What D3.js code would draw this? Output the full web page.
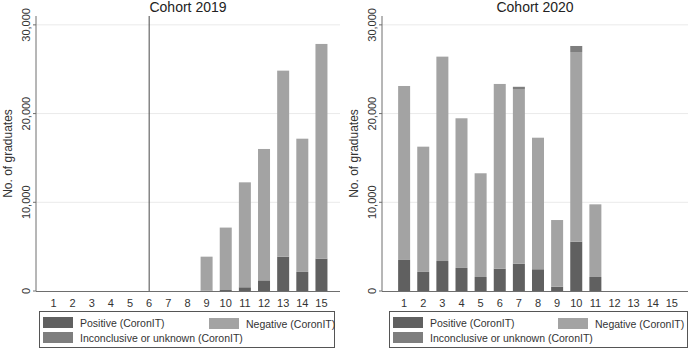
<!DOCTYPE html>
<html>
<head>
<meta charset="utf-8">
<script src="https://cdn.jsdelivr.net/npm/d3@7"></script>
<style>
  body { margin: 0; background: #fff; }
  svg { display: block; font-family: "Liberation Sans", Arial, sans-serif; }
</style>
</head>
<body>
<div id="chart"></div>
<script>
const W = 691, H = 349;

const categories = d3.range(1, 16);
const yTicks = [0, 10000, 20000, 30000];

// Cohort 2019
const pos2019 = [0, 0, 0, 0, 0, 0, 0, 0, 30, 110, 420, 1200, 3870, 2150, 3650];
const neg2019 = [0, 0, 0, 0, 0, 0, 0, 0, 3840, 7040, 11830, 14810, 20970, 15020, 24200];
const inc2019 = [0, 0, 0, 0, 0, 0, 0, 0, 0, 0, 0, 0, 0, 0, 0];

// Cohort 2020
const pos2020 = [3500, 2150, 3380, 2600, 1580, 2520, 3080, 2450, 480, 5560, 1580, 0, 0, 0, 0];
const neg2020 = [19610, 14120, 23040, 16870, 11690, 20820, 19690, 14830, 7520, 21380, 8190, 0, 0, 0, 0];
const inc2020 = [0, 0, 0, 0, 0, 0, 250, 0, 0, 680, 0, 0, 0, 0, 0];

const seriesNames = ["Positive (CoronIT)", "Negative (CoronIT)", "Inconclusive or unknown (CoronIT)"];
const seriesKeys = ["pos", "neg", "inc"];
const COLORS = { pos: "#606060", neg: "#a3a3a3", inc: "#7e7e7e" };

const panels = [
  { title: "Cohort 2019", pos: pos2019, neg: neg2019, inc: inc2019,
    left: 36, right: 340, x0: 34.3, x16: 340.6, marker: 6, tickX: 30, titleX: 8,
    legend: { x: 39, y: 311, w: 295, negX: 209 } },
  { title: "Cohort 2020", pos: pos2020, neg: neg2020, inc: inc2020,
    left: 382, right: 688, x0: 385, x16: 691, marker: null, tickX: 376, titleX: 354,
    legend: { x: 389, y: 311, w: 298, negX: 558 } }
];

const TOP = 16, BOTTOM = 291;
const y = d3.scaleLinear().domain([0, 31000]).range([BOTTOM, TOP]);

const svg = d3.select("#chart").append("svg")
  .attr("width", W).attr("height", H);

panels.forEach(p => {
  const g = svg.append("g");
  const x = d3.scaleLinear().domain([0, 16]).range([p.x0, p.x16]);
  const barW = 12;

  // gridlines
  g.selectAll(".grid").data(yTicks.filter(d => d > 0)).join("line")
    .attr("x1", p.left).attr("x2", p.right)
    .attr("y1", d => y(d)).attr("y2", d => y(d))
    .attr("stroke", "#eaeaea").attr("stroke-width", 1);

  // stacked bars: positive at the bottom, then negative, then inconclusive
  const rows = categories.map((c, i) => ({ cat: c, pos: p.pos[i], neg: p.neg[i], inc: p.inc[i] }));
  const stacked = d3.stack().keys(seriesKeys)(rows);
  g.selectAll(".series").data(stacked).join("g")
    .attr("fill", s => COLORS[s.key])
    .selectAll("rect").data(s => s.filter(d => d[1] - d[0] > 0)).join("rect")
    .attr("x", d => x(d.data.cat) - barW / 2)
    .attr("width", barW)
    .attr("y", d => y(d[1]))
    .attr("height", d => y(d[0]) - y(d[1]));

  // vertical marker line
  if (p.marker !== null) {
    g.append("line")
      .attr("x1", x(p.marker)).attr("x2", x(p.marker))
      .attr("y1", TOP).attr("y2", BOTTOM)
      .attr("stroke", "#4a4a4a").attr("stroke-width", 1);
  }

  // axes
  g.append("line").attr("x1", p.left).attr("x2", p.left).attr("y1", TOP).attr("y2", BOTTOM)
    .attr("stroke", "#6e6e6e");
  g.append("line").attr("x1", p.left).attr("x2", p.right).attr("y1", BOTTOM + 0.5).attr("y2", BOTTOM + 0.5)
    .attr("stroke", "#6e6e6e");

  // y ticks
  g.selectAll(".ytick").data(yTicks).join("line")
    .attr("x1", p.left - 3).attr("x2", p.left)
    .attr("y1", d => y(d)).attr("y2", d => y(d))
    .attr("stroke", "#6e6e6e");
  g.selectAll(".ylab").data(yTicks).join("text")
    .attr("transform", d => `translate(${p.tickX},${y(d)}) rotate(-90)`)
    .attr("text-anchor", "middle")
    .attr("font-size", 11).attr("fill", "#333")
    .text(d => d3.format(",")(d));

  // x tick labels
  g.selectAll(".xlab").data(categories).join("text")
    .attr("x", d => x(d)).attr("y", BOTTOM + 16)
    .attr("text-anchor", "middle")
    .attr("font-size", 11).attr("fill", "#333")
    .text(d => d);

  // y title
  g.append("text")
    .attr("transform", `translate(${p.titleX + 4},${(TOP + BOTTOM) / 2}) rotate(-90)`)
    .attr("text-anchor", "middle")
    .attr("font-size", 12).attr("fill", "#333")
    .text("No. of graduates");

  // panel title
  g.append("text")
    .attr("x", (p.left + p.right) / 2).attr("y", 12)
    .attr("text-anchor", "middle")
    .attr("font-size", 14).attr("fill", "#222")
    .text(p.title);

  // legend
  const L = p.legend;
  const lg = g.append("g");
  lg.append("rect").attr("x", L.x + 0.5).attr("y", L.y + 0.5).attr("width", L.w).attr("height", 36)
    .attr("fill", "#fff").attr("stroke", "#555");
  const items = [
    { key: "pos", name: seriesNames[0], x: L.x + 4, y: L.y + 6 },
    { key: "neg", name: seriesNames[1], x: L.negX, y: L.y + 7 },
    { key: "inc", name: seriesNames[2], x: L.x + 4, y: L.y + 21 }
  ];
  items.forEach(it => {
    lg.append("rect").attr("x", it.x).attr("y", it.y).attr("width", 30).attr("height", 11)
      .attr("fill", COLORS[it.key]);
    lg.append("text").attr("x", it.x + 37).attr("y", it.y + 9.5)
      .attr("font-size", 10.5).attr("fill", "#333")
      .text(it.name);
  });
});
</script>
</body>
</html>
